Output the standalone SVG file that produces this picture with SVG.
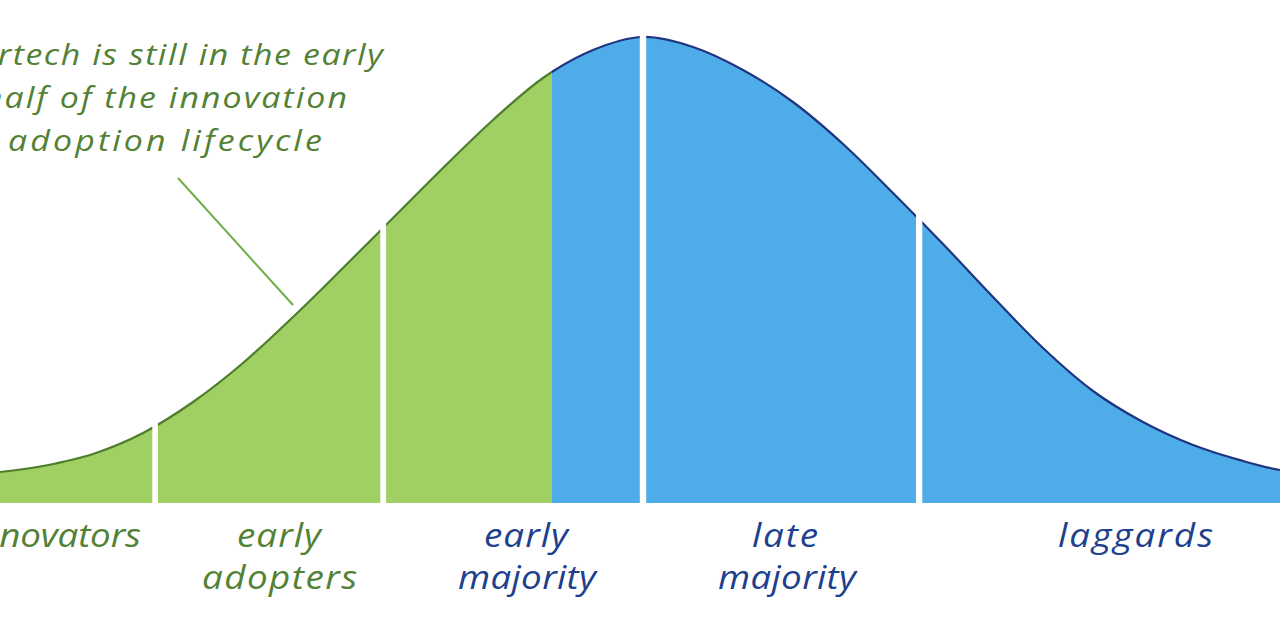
<svg xmlns="http://www.w3.org/2000/svg" width="1280" height="624" viewBox="0 0 1280 624">
  <style>
    .txt { font-family: "Open Sans", "Noto Sans", "DejaVu Sans", sans-serif; font-style: italic; }
    .cap { font-size: 29.5px; fill: #538135; }
    .lblg { font-size: 32px; fill: #538135; }
    .lblb { font-size: 32px; fill: #203f8c; }
    .gfill { fill: #a0cf63; }
    .bfill { fill: #4eade8; }
    .gstroke { fill: none; stroke: #4e7d2b; stroke-width: 2.2; }
    .bstroke { fill: none; stroke: #1f3580; stroke-width: 2.2; }
    .gap { fill: #ffffff; }
  </style>
  <defs>
    <path id="bell" d="M0,472 C15.5,470.33 27.5,469 43,466 C58.5,463 76.33,459.5 93,454 C109.67,448.5 126.33,441.67 143,433 C159.67,424.33 176.33,413.67 193,402 C209.67,390.33 226.33,377.17 243,363 C259.67,348.83 276.33,332.83 293,317 C309.67,301.17 326.33,284.5 343,268 C359.67,251.5 376.33,234.67 393,218 C409.67,201.33 426.33,184.33 443,168 C459.67,151.67 476.33,135 493,120 C509.67,105 526.33,89.67 543,78 C559.67,66.33 576.33,56.83 593,50 C609.67,43.17 626.33,37.5 643,37 C659.67,36.5 676.33,41.5 693,47 C709.67,52.5 726.33,60.83 743,70 C759.67,79.17 776.33,89.67 793,102 C809.67,114.33 826.33,128.83 843,144 C859.67,159.17 876.33,176.33 893,193 C909.67,209.67 926.33,226.67 943,244 C959.67,261.33 976.33,279.67 993,297 C1009.67,314.33 1026.33,332.33 1043,348 C1059.67,363.67 1076.33,378.67 1093,391 C1109.67,403.33 1126.33,413 1143,422 C1159.67,431 1176.33,438.5 1193,445 C1209.67,451.5 1228.5,456.83 1243,461 C1257.5,465.17 1265.5,467.5 1280,470"/>
    <path id="bellArea" d="M0,503 L0,472 C15.5,470.33 27.5,469 43,466 C58.5,463 76.33,459.5 93,454 C109.67,448.5 126.33,441.67 143,433 C159.67,424.33 176.33,413.67 193,402 C209.67,390.33 226.33,377.17 243,363 C259.67,348.83 276.33,332.83 293,317 C309.67,301.17 326.33,284.5 343,268 C359.67,251.5 376.33,234.67 393,218 C409.67,201.33 426.33,184.33 443,168 C459.67,151.67 476.33,135 493,120 C509.67,105 526.33,89.67 543,78 C559.67,66.33 576.33,56.83 593,50 C609.67,43.17 626.33,37.5 643,37 C659.67,36.5 676.33,41.5 693,47 C709.67,52.5 726.33,60.83 743,70 C759.67,79.17 776.33,89.67 793,102 C809.67,114.33 826.33,128.83 843,144 C859.67,159.17 876.33,176.33 893,193 C909.67,209.67 926.33,226.67 943,244 C959.67,261.33 976.33,279.67 993,297 C1009.67,314.33 1026.33,332.33 1043,348 C1059.67,363.67 1076.33,378.67 1093,391 C1109.67,403.33 1126.33,413 1143,422 C1159.67,431 1176.33,438.5 1193,445 C1209.67,451.5 1228.5,456.83 1243,461 C1257.5,465.17 1265.5,467.5 1280,470 L1280,503 Z"/>
    <clipPath id="clipG"><rect x="-10" y="0" width="562" height="510"/></clipPath>
    <clipPath id="clipB"><rect x="552" y="0" width="740" height="510"/></clipPath>
  </defs>
  <rect x="0" y="0" width="1280" height="624" fill="#ffffff"/>

  <g id="curve-green" clip-path="url(#clipG)">
    <use href="#bellArea" class="gfill"/>
    <use href="#bell" class="gstroke"/>
  </g>
  <g id="curve-blue" clip-path="url(#clipB)">
    <use href="#bellArea" class="bfill"/>
    <use href="#bell" class="bstroke"/>
  </g>

  <g id="dividers">
    <rect class="gap" x="152.3" y="30" width="5.6" height="476"/>
    <rect class="gap" x="380.3" y="30" width="5.8" height="476"/>
    <rect class="gap" x="639.8" y="30" width="6.4" height="476"/>
    <rect class="gap" x="916" y="30" width="6.3" height="476"/>
  </g>

  <g id="connectors">
    <line x1="178" y1="178" x2="293" y2="305" stroke="#70ad47" stroke-width="2"/>
  </g>

  <g id="callout">
    <text class="txt cap" transform="translate(-53,65) scale(1.15,1)" textLength="379" lengthAdjust="spacing">Martech is still in the early</text>
    <text class="txt cap" transform="translate(-17,108) scale(1.15,1)" textLength="316.5" lengthAdjust="spacing">half of the innovation</text>
    <text class="txt cap" transform="translate(8,151) scale(1.15,1)" textLength="273" lengthAdjust="spacing">adoption lifecycle</text>
  </g>

  <g id="innovators">
    <text class="txt lblg" transform="translate(-31,547) scale(1.15,1)" textLength="149.5" lengthAdjust="spacing">innovators</text>
  </g>
  <g id="early-adopters">
    <text class="txt lblg" transform="translate(237,547) scale(1.15,1)" textLength="73" lengthAdjust="spacing">early</text>
    <text class="txt lblg" transform="translate(202,589) scale(1.15,1)" textLength="134.8" lengthAdjust="spacing">adopters</text>
  </g>
  <g id="early-majority">
    <text class="txt lblb" transform="translate(484,547) scale(1.15,1)" textLength="73" lengthAdjust="spacing">early</text>
    <text class="txt lblb" transform="translate(458,589) scale(1.15,1)" textLength="120" lengthAdjust="spacing">majority</text>
  </g>
  <g id="late-majority">
    <text class="txt lblb" transform="translate(752,547) scale(1.15,1)" textLength="57.4" lengthAdjust="spacing">late</text>
    <text class="txt lblb" transform="translate(718,589) scale(1.15,1)" textLength="120" lengthAdjust="spacing">majority</text>
  </g>
  <g id="laggards">
    <text class="txt lblb" transform="translate(1058,547) scale(1.15,1)" textLength="134.8" lengthAdjust="spacing">laggards</text>
  </g>
</svg>
